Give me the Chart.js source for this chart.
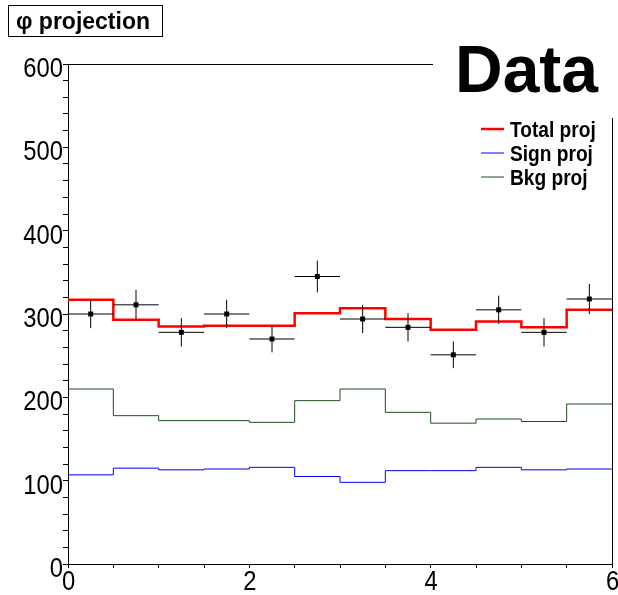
<!DOCTYPE html>
<html>
<head>
<meta charset="utf-8">
<script src="https://cdn.jsdelivr.net/npm/chart.js@4"></script>
<style>
  body { margin: 0; background: #fff; }
</style>
</head>
<body>
<canvas id="graph" width="618" height="595"></canvas>
<script>
// phi bins (centres) and the values
const phiBins = [0.25, 0.75, 1.25, 1.75, 2.25, 2.75, 3.25, 3.75, 4.25, 4.75, 5.25, 5.75]
const binWidth = 0.5
const dataCounts = [300, 311, 278, 300, 270, 345, 294, 284, 251, 305, 278, 318]
const dataErrors = [17, 18, 17, 17, 16, 19, 17, 17, 16, 17, 17, 18]
const totalProj = [317, 293, 285, 286, 286, 301, 307, 294, 281, 291, 284, 305]
const signProj = [107, 115, 113, 114, 116, 105, 98, 112, 112, 116, 113, 114]
const bkgProj = [210, 178, 172, 172, 170, 196, 210, 182, 169, 174, 171, 192]
const xTickLabels = [0, 2, 4, 6]
const yTickLabels = [0, 100, 200, 300, 400, 500, 600]

const sans = "'Liberation Sans', Arial, sans-serif"

// histogram outline: one point per bin edge, drawn as steps
function steps(vals) {
  let pts = phiBins.map((c, i) => ({ x: c - binWidth / 2, y: vals[i] }))
  pts.push({ x: phiBins[phiBins.length - 1] + binWidth / 2, y: vals[vals.length - 1] })
  return pts
}

// narrow text: the picture uses a condensed face, squeeze a normal one
function squeezed(ctx, text, x, y, align, sx) {
  ctx.save()
  ctx.translate(x, y)
  ctx.scale(sx, 1)
  ctx.textAlign = align
  ctx.fillText(text, 0, 0)
  ctx.restore()
}

const errorBars = {
  id: 'errorBars',
  afterDatasetsDraw(chart) {
    const { ctx, scales: { x, y } } = chart
    ctx.save()
    ctx.strokeStyle = '#000'
    ctx.lineWidth = 1
    phiBins.forEach((c, i) => {
      const px = x.getPixelForValue(c)
      const py = y.getPixelForValue(dataCounts[i])
      ctx.beginPath()
      ctx.moveTo(x.getPixelForValue(c - binWidth / 2), py)
      ctx.lineTo(x.getPixelForValue(c + binWidth / 2), py)
      ctx.moveTo(px, y.getPixelForValue(dataCounts[i] - dataErrors[i]))
      ctx.lineTo(px, y.getPixelForValue(dataCounts[i] + dataErrors[i]))
      ctx.stroke()
    })
    ctx.restore()
  }
}

const decorations = {
  id: 'decorations',
  afterDraw(chart) {
    const { ctx, chartArea: a, scales: { x, y } } = chart
    ctx.save()
    // frame top and right
    ctx.strokeStyle = '#000'
    ctx.lineWidth = 1
    ctx.beginPath()
    ctx.moveTo(a.left, a.top + 0.5)
    ctx.lineTo(a.right, a.top + 0.5)
    ctx.moveTo(a.right + 0.5, a.top)
    ctx.lineTo(a.right + 0.5, a.bottom)
    ctx.stroke()

    // axis labels
    ctx.fillStyle = '#000'
    ctx.font = '28px ' + sans
    ctx.textBaseline = 'alphabetic'
    yTickLabels.forEach(v => squeezed(ctx, String(v), a.left - 5, y.getPixelForValue(v) + 13, 'right', 0.85))
    xTickLabels.forEach(v => squeezed(ctx, String(v), x.getPixelForValue(v) + 0.5, a.bottom + 26, 'center', 0.85))

    // "Data" label box covers the corner of the frame
    ctx.fillStyle = '#fff'
    ctx.fillRect(433, 0, 185, 118)
    ctx.fillStyle = '#000'
    ctx.font = 'bold 66px ' + sans
    ctx.fillText('Data', 455, 92)

    // title box
    ctx.fillStyle = '#fff'
    ctx.fillRect(8, 5, 154, 31)
    ctx.strokeRect(8.5, 5.5, 154, 31)
    ctx.fillStyle = '#000'
    ctx.font = 'bold 23px ' + sans
    ctx.fillText('\u03c6 projection', 16, 29)

    // legend
    const rows = [137, 161, 185]
    chart.data.datasets.slice(1).forEach((ds, i) => {
      const ly = rows[i] - 8
      ctx.strokeStyle = ds.borderColor
      ctx.lineWidth = ds.borderWidth
      ctx.beginPath()
      ctx.moveTo(481, ly)
      ctx.lineTo(504, ly)
      ctx.stroke()
      ctx.fillStyle = '#000'
      ctx.font = 'bold 22px ' + sans
      squeezed(ctx, ds.label, 510, rows[i], 'left', 0.87)
    })
    ctx.restore()
  }
}

new Chart(document.getElementById('graph'), {
  type: 'line',
  data: {
    datasets: [
      {
        type: 'scatter',
        label: 'Data',
        data: phiBins.map((c, i) => ({ x: c, y: dataCounts[i] })),
        pointStyle: 'rect',
        pointRadius: 3.5,
        backgroundColor: '#000',
        borderColor: '#000',
        borderWidth: 0
      },
      {
        label: 'Total proj',
        data: steps(totalProj),
        stepped: 'before',
        borderColor: '#ff0000',
        borderWidth: 2.5,
        pointRadius: 0,
        fill: false
      },
      {
        label: 'Sign proj',
        data: steps(signProj),
        stepped: 'before',
        borderColor: '#0000ff',
        borderWidth: 1,
        pointRadius: 0,
        fill: false
      },
      {
        label: 'Bkg proj',
        data: steps(bkgProj),
        stepped: 'before',
        borderColor: '#1f4f1f',
        borderWidth: 1,
        pointRadius: 0,
        fill: false
      }
    ]
  },
  options: {
    responsive: false,
    animation: false,
    layout: { padding: { top: 64, right: 6, left: 0, bottom: 0 } },
    plugins: {
      legend: { display: false },
      tooltip: { enabled: false }
    },
    scales: {
      x: {
        type: 'linear',
        min: 0,
        max: 6,
        afterFit: s => { s.height = 31; s.paddingLeft = 0; s.paddingRight = 0 },
        ticks: { stepSize: 0.5, autoSkip: false, display: false },
        grid: { drawOnChartArea: false, drawTicks: true, tickLength: 4, color: '#000' },
        border: { display: true, color: '#000', width: 1 }
      },
      y: {
        min: 0,
        max: 600,
        afterFit: s => { s.width = 68; s.paddingTop = 0; s.paddingBottom = 0 },
        ticks: { stepSize: 20, autoSkip: false, display: false },
        grid: { drawOnChartArea: false, drawTicks: true, tickLength: 5, color: '#000' },
        border: { display: true, color: '#000', width: 1 }
      }
    }
  },
  plugins: [errorBars, decorations]
})
</script>
</body>
</html>
